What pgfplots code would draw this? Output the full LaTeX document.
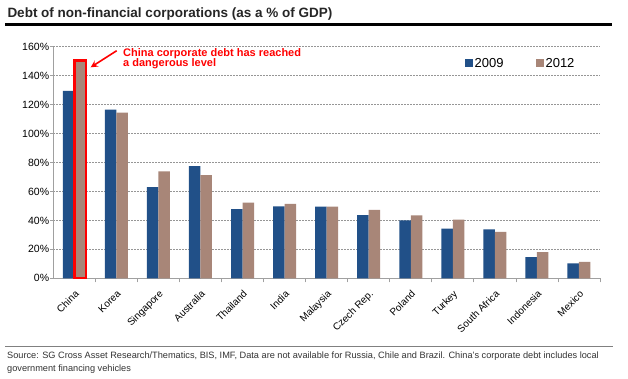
\documentclass[border=0pt]{standalone}
\usepackage{fontspec}
\setmainfont{Liberation Sans}
\usepackage{pgfplots}
\pgfplotsset{compat=1.18}
\usetikzlibrary{arrows.meta}
\definecolor{cblue}{RGB}{33,80,136}
\definecolor{cbrown}{RGB}{168,134,120}
\definecolor{gridc}{RGB}{150,150,150}
\definecolor{axc}{RGB}{160,160,160}
\begin{document}
\begin{tikzpicture}[x=1pt,y=1pt]
\useasboundingbox (0,0) rectangle (628,378);
\fill[white] (0,0) rectangle (628,378);
% title
\node[anchor=base west, inner sep=0pt, font=\fontsize{13.5}{15}\selectfont\bfseries, text=black!85] at (7.3,360.7) {Debt of non-financial corporations (as a \% of GDP)};
\draw[line width=3pt, black] (5,353.7) -- (612,353.7);
% footer
\draw[line width=1pt, gray] (5,32) -- (612.7,32);
\node[anchor=base west, inner sep=0pt, font=\fontsize{9.2}{11}\selectfont, text=black!80] at (7,20) {Source: SG Cross Asset Research/Thematics, BIS, IMF, Data are not available for Russia, Chile and Brazil. China's corporate debt includes local};
\node[anchor=base west, inner sep=0pt, font=\fontsize{9.2}{11}\selectfont, text=black!80] at (7,7) {government financing vehicles};
\begin{axis}[
  at={(53.3pt,99.7pt)}, anchor=south west,
  scale only axis, width=546.7pt, height=231.6pt,
  xmin=-0.5, xmax=12.5, ymin=0, ymax=160,
  axis x line*=bottom, axis y line*=left,
  axis line style={axc, line width=0.8pt},
  ybar=0pt, bar width=11.5pt,
  xtick={0,...,12},
  xticklabels={China,Korea,Singapore,Australia,Thailand,India,Malaysia,Czech Rep.,Poland,Turkey,South Africa,Indonesia,Mexico},
  x tick style={draw=none},
  extra x ticks={0.5,1.5,...,12.5},
  extra x tick labels={},
  extra x tick style={x tick style={draw=axc, line width=0.8pt}, tick align=outside, major tick length=4pt, grid=none},
  xticklabel style={xshift=0pt, yshift=-8pt, rotate=45, anchor=north east, inner sep=0pt, font=\fontsize{10}{11}\selectfont},
  ytick={0,20,...,160},
  yticklabel={\pgfmathprintnumber{\tick}\%},
  /pgf/number format/assume math mode=true,
  yticklabel style={font=\fontsize{10.5}{12}\selectfont, inner sep=1pt},
  y tick style={draw=axc, line width=0.8pt},
  tick align=outside, major tick length=3pt,
  ymajorgrids, grid style={gridc, dash pattern=on 2pt off 1pt, line width=0.6pt},
  legend style={at={(0.752,0.928)}, anchor=west, draw=none, fill=none, font=\fontsize{13}{15}\selectfont, legend columns=2, /tikz/every even column/.append style={column sep=30pt}, inner sep=0pt},
  legend image code/.code={\fill[#1] (0pt,-3.5pt) rectangle (8pt,4.5pt);},
]
\addplot[fill=cblue, draw=none] coordinates {(0,129.5) (1,116.5) (2,63) (3,77.5) (4,47.8) (5,49.7) (6,49.5) (7,43.7) (8,40) (9,34.3) (10,33.8) (11,14.7) (12,10.3)};
\addplot[fill=cbrown, draw=none] coordinates {(0,150) (1,114.5) (2,73.8) (3,71.3) (4,52.2) (5,51.5) (6,49.5) (7,47.2) (8,43.5) (9,40.5) (10,32) (11,18) (12,11.3)};
\legend{2009,2012}
\draw[red, line width=2.5pt] (axis cs:0,0) rectangle ([xshift=11.5pt]axis cs:0,150.3);
\end{axis}
\draw[red, line width=1.6pt, -{Stealth[length=7pt,width=7pt]}] (116.7,327.3) -- (90.7,310.7);
\node[anchor=base west, inner sep=0pt, font=\fontsize{11}{10.5}\selectfont\bfseries, text=red] at (123,321.7) {China corporate debt has reached};
\node[anchor=base west, inner sep=0pt, font=\fontsize{11}{10.5}\selectfont\bfseries, text=red] at (123,311.5) {a dangerous level};
\end{tikzpicture}
\end{document}
